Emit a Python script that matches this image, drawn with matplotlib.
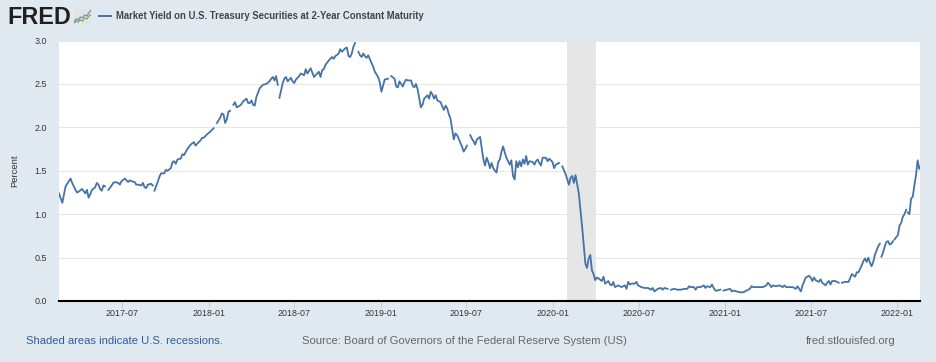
import matplotlib
matplotlib.use("Agg")
import matplotlib.pyplot as plt
import matplotlib.dates as mdates
import numpy as np
import pandas as pd

plt.rcParams['font.family'] = ['Liberation Sans', 'DejaVu Sans']

# weekly readings, percent
yields = [
    1.24, 1.13, 1.32, 1.38, 1.36, 1.28, 1.26, 1.29, 1.24, 1.19,
    1.28, 1.31, 1.34, 1.27, 1.32, 1.28, 1.33, 1.37, 1.36, 1.38,
    1.41, 1.37, 1.38, 1.37, 1.34, 1.33, 1.31, 1.34, 1.35, 1.27,
    1.37, 1.47, 1.47, 1.50, 1.53, 1.61, 1.63, 1.64, 1.68, 1.75,
    1.80, 1.83, 1.81, 1.85, 1.88, 1.92, 1.95, 1.99, 2.05, 2.11,
    2.15, 2.09, 2.19, 2.26, 2.23, 2.25, 2.30, 2.33, 2.28, 2.26,
    2.35, 2.45, 2.49, 2.50, 2.53, 2.58, 2.59, 2.34, 2.51, 2.58,
    2.55, 2.53, 2.55, 2.59, 2.61, 2.67, 2.65, 2.63, 2.60, 2.64,
    2.66, 2.72, 2.77, 2.81, 2.82, 2.85, 2.87, 2.91, 2.82, 2.85,
    2.97, 2.87, 2.81, 2.82, 2.83, 2.74, 2.64, 2.58, 2.41, 2.55,
    2.56, 2.59, 2.56, 2.46, 2.50, 2.52, 2.54, 2.54, 2.46, 2.44,
    2.23, 2.33, 2.37, 2.41, 2.33, 2.31, 2.29, 2.20, 2.22, 2.10,
    1.86, 1.91, 1.82, 1.72, 1.79, 1.91, 1.84, 1.86, 1.89, 1.63,
    1.65, 1.53, 1.53, 1.48, 1.63, 1.78, 1.65, 1.57, 1.44, 1.61,
    1.61, 1.63, 1.67, 1.61, 1.60, 1.61, 1.59, 1.65, 1.65, 1.64,
    1.60, 1.57, 1.59, 1.55, 1.46, 1.34, 1.44, 1.45, 1.24, 0.86,
    0.43, 0.49, 0.35, 0.24, 0.26, 0.23, 0.20, 0.23, 0.18, 0.16,
    0.18, 0.16, 0.18, 0.22, 0.20, 0.20, 0.18, 0.16, 0.15, 0.15,
    0.13, 0.11, 0.14, 0.15, 0.15, 0.14, 0.13, 0.14, 0.13, 0.13,
    0.14, 0.14, 0.16, 0.16, 0.16, 0.16, 0.18, 0.17, 0.16, 0.15,
    0.12, 0.13, 0.12, 0.13, 0.14, 0.12, 0.11, 0.10, 0.10, 0.12,
    0.14, 0.16, 0.16, 0.16, 0.16, 0.18, 0.19, 0.18, 0.17, 0.18,
    0.16, 0.16, 0.16, 0.16, 0.14, 0.14, 0.18, 0.27, 0.29, 0.23,
    0.24, 0.22, 0.21, 0.18, 0.23, 0.23, 0.23, 0.21, 0.21, 0.22,
    0.22, 0.31, 0.28, 0.33, 0.41, 0.49, 0.50, 0.40, 0.53, 0.63,
    0.51, 0.63, 0.69, 0.66, 0.71, 0.76, 0.90, 1.00, 1.02, 1.18,
    1.33, 1.62, 1.56,
]

# wiggles seen between the weekly readings: week number, value
mid_weeks = [
    3.5, 5.5, 8.5, 9.5, 11.5, 12.5, 13.5, 16.5, 18.5, 21.5, 23.5, 25.5, 26.5, 28.5,
    30.5, 32.5, 34.5, 35.5, 37.5, 41.5, 43.5, 49.5, 50.5, 51.5, 53.5, 55.5, 57.5,
    58.5, 59.5, 64.5, 65.5, 66.5, 68.5, 69.5, 70.5, 71.5, 73.5, 74.5, 75.5, 76.5,
    77.5, 78.5, 79.5, 80.5, 83.5, 85.5, 87.5, 88.5, 89.5, 91.5, 92.5, 93.5, 95.5,
    97.5, 98.5, 102.5, 103.5, 104.5, 105.5, 107.5, 108.5, 110.5, 112.5, 113.5,
    114.5, 116.5, 117.5, 118.5, 120.5, 121.5, 122.5, 123.5, 125.5, 126.5, 129.5,
    130.5, 131.5, 132.5, 133.5, 134.5, 135.5, 137.5, 138.5, 139.5, 140.5, 141.5,
    142.5, 144.5, 145.5, 146.5, 148.5, 150.5, 154.5, 155.5, 156.5, 160.5, 161.5,
    162.5, 163.5, 165.5, 167.5, 168.5, 172.5, 173.5, 175.5, 180.5, 183.5, 191.5,
    193.5, 196.5, 198.5, 199.5, 204.5, 210.5, 215.5, 216.5, 220.5, 224.5, 225.5,
    228.5, 229.5, 231.5, 233.5, 234.5, 242.5, 244.5, 245.5, 246.5, 247.5, 248.5,
    249.5, 250.5, 251.5, 252.5, 253.5, 255.5, 256.5, 257.5, 258.5, 259.5, 260.5,
    261.5,
]
mid_values = [
    1.41, 1.25, 1.28, 1.23, 1.36, 1.29, 1.33, 1.36, 1.34, 1.39, 1.34, 1.36, 1.30, 1.33,
    1.43, 1.51, 1.60, 1.58, 1.69, 1.79, 1.88, 2.16, 2.05, 2.18, 2.29, 2.27, 2.28,
    2.31, 2.25, 2.56, 2.54, 2.49, 2.56, 2.53, 2.57, 2.51, 2.62, 2.60, 2.62, 2.68,
    2.58, 2.62, 2.58, 2.67, 2.79, 2.90, 2.92, 2.81, 2.93, 2.83, 2.85, 2.80, 2.70,
    2.52, 2.48, 2.47, 2.53, 2.47, 2.55, 2.48, 2.50, 2.26, 2.33, 2.38,
    2.37, 2.24, 2.25, 2.15, 1.93, 1.87, 1.78, 1.75, 1.87, 1.80, 1.56,
    1.60, 1.59, 1.50, 1.60, 1.72, 1.71, 1.62, 1.40, 1.54, 1.55, 1.58,
    1.57, 1.57, 1.63, 1.56, 1.61, 1.53, 1.40, 1.42, 1.36, 0.38, 0.53,
    0.31, 0.27, 0.28, 0.19, 0.22, 0.14, 0.19, 0.22, 0.15, 0.13, 0.17,
    0.13, 0.15, 0.19, 0.12, 0.11, 0.17, 0.21, 0.16, 0.18, 0.17, 0.11,
    0.27, 0.27, 0.25, 0.21, 0.19, 0.33, 0.46, 0.45, 0.44, 0.45, 0.58,
    0.66, 0.56, 0.68, 0.65, 0.69, 0.87, 0.97, 1.05, 1.00, 1.20, 1.45,
    1.52,
]

# week number of the point right after a hole in the line
gap_after = [15, 29, 48, 53, 67, 91, 101, 125, 153, 186, 202, 238, 243, 250, 254, 258]

recession_start = "2020-02-01"
recession_end = "2020-04-01"
x_start = "2017-02-17"
x_end = "2022-02-18"
last_reading = "2022-02-20"
tick_dates = ["2017-07-01", "2018-01-01", "2018-07-01", "2019-01-01", "2019-07-01",
              "2020-01-01", "2020-07-01", "2021-01-01", "2021-07-01", "2022-01-01"]
y_ticks = [0.0, 0.5, 1.0, 1.5, 2.0, 2.5, 3.0]

# small logo icon lines
icon_x = [0, 2, 4, 6, 8, 10, 12, 14, 16]
icon_blue = [2, 5, 4, 7, 6, 9, 8, 11, 14]
icon_green = [1, 3, 2, 4, 3, 6, 5, 8, 9]

W, H = 936, 362
BG = "#E1E9F0"
LINE = "#4572A7"

def fx(px):
    return px / W

def fy(py):
    return 1 - py / H

start = pd.Timestamp(x_start)
step = (pd.Timestamp(last_reading) - start) / (len(yields) - 1)

def week_date(w):
    return start + step * w

s = pd.Series(yields, index=[week_date(i) for i in range(len(yields))], dtype=float)
mids = pd.Series(mid_values, index=[week_date(w) for w in mid_weeks], dtype=float)
holes = pd.Series(np.nan, index=[week_date(i - 0.4) for i in gap_after])
s = pd.concat([s, mids, holes]).sort_index()

fig = plt.figure(figsize=(W / 100, H / 100), dpi=100, facecolor=BG)
ax = fig.add_axes([fx(59), fy(301), fx(920 - 59), (301 - 40.5) / H])
ax.set_facecolor("white")

ax.axvspan(pd.Timestamp(recession_start), pd.Timestamp(recession_end), color="#E6E6E6", lw=0, zorder=1)
ax.plot(s.index, s.values, color=LINE, lw=1.3, zorder=3, solid_joinstyle="round")

ax.set_xlim(start, pd.Timestamp(x_end))
ax.set_ylim(0, 3.0)
ax.set_yticks(y_ticks)
ax.set_yticklabels([f"{v:.1f}" for v in y_ticks])
ax.set_xticks([pd.Timestamp(d) for d in tick_dates])
ax.xaxis.set_major_formatter(mdates.DateFormatter("%Y-%m"))
ax.grid(axis="y", color="#E6E6E6", lw=0.75, zorder=0)
ax.set_axisbelow(True)

for side in ["top", "left", "right"]:
    ax.spines[side].set_visible(False)
ax.spines["bottom"].set_color("black")
ax.spines["bottom"].set_linewidth(1.5)

ax.tick_params(axis="y", length=0, pad=8.5, labelsize=6.4, labelcolor="#333333")
ax.tick_params(axis="x", length=5, width=0.7, color="#C0D0E0", pad=1, labelsize=6.4, labelcolor="#333333")

fig.text(fx(15), fy(171), "Percent", rotation=90, ha="center", va="center", fontsize=6.8, color="#333333")

# header
fig.text(fx(7.5), fy(24.5), "FRED", fontsize=16.8, fontweight="bold", color="#231F20", ha="left", va="baseline")
icon = fig.add_axes([fx(74), fy(24), fx(17), 15 / H])
icon.set_facecolor("#E2E4E2")
icon.plot(icon_x, icon_blue, color="#6E8FB5", lw=0.9)
icon.plot(icon_x, icon_green, color="#7FA65A", lw=0.9)
icon.set_xlim(0, 16)
icon.set_ylim(0, 15)
icon.set_xticks([])
icon.set_yticks([])
for side in icon.spines:
    icon.spines[side].set_visible(False)
fig.add_artist(plt.Line2D([fx(99), fx(111)], [fy(16), fy(16)], color=LINE, lw=1.4))
fig.text(fx(115.5), fy(16), "Market Yield on U.S. Treasury Securities at 2-Year Constant Maturity",
         fontsize=6.87, fontweight="bold", color="#444444", ha="left", va="center")

# footer
fig.text(fx(26), fy(341), "Shaded areas indicate U.S. recessions.", fontsize=8.1, color="#2F5D9B", ha="left", va="center")
fig.text(fx(302), fy(341), "Source: Board of Governors of the Federal Reserve System (US)", fontsize=8.1, color="#666666", ha="left", va="center")
fig.text(fx(806), fy(341), "fred.stlouisfed.org", fontsize=8.1, color="#666666", ha="left", va="center")

print(len(yields), len(mid_weeks), len(mid_values))
fig.savefig("out.png", dpi=100, facecolor=BG)
